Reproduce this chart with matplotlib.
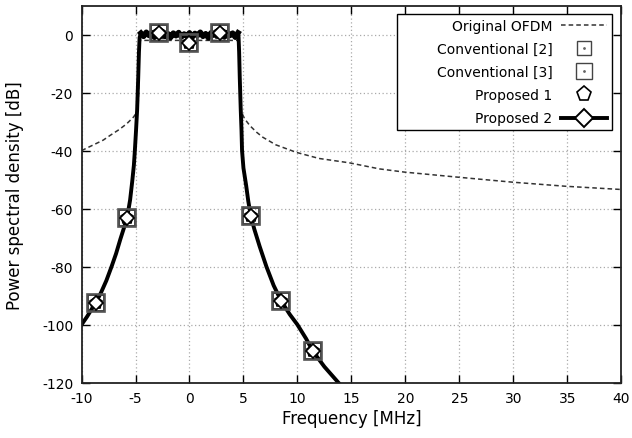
import numpy as np
import matplotlib.pyplot as plt

# Original OFDM
ofdm_f = [-10, -9, -8, -7.37, -6.5, -5.83, -5.2, -4.76, -4.62, 4.52, 4.76, 5.1, 5.6, 6.2, 6.8,
          8, 9.9, 12, 14.8, 17.6, 19.9, 25, 30, 34.9, 40]
ofdm_db = [-40, -38.2, -36.4, -34.8, -32.7, -30.8, -28.5, -26.2, -2, -2, -26.2, -29, -31.4, -33.6, -35.4,
           -38, -40.6, -42.7, -44.2, -46.3, -47.4, -49.2, -50.9, -52.3, -53.4]

# Proposed 2 - zbocza (lewe i prawe)
p2_left_f = [-10, -9.5, -9.0, -8.7, -8.2, -7.7, -7.22, -6.8, -6.4, -6.1, -5.78, -5.5, -5.3, -5.15,
             -5.06, -4.95, -4.85, -4.75, -4.68, -4.62]
p2_left_db = [-100, -97.3, -94.3, -92.5, -89, -84.8, -80, -75.5, -70.5, -67, -63.2, -57, -50.5, -45,
              -40, -33, -26, -15, -6, -1]
# pasmo - szum wokol 0 dB
p2_top_f = [-4.5, -4.25, -4.0, -3.75, -3.5, -3.25, -3.0, -2.75, -2.5, -2.25, -2.0, -1.75, -1.5, -1.25,
            -1.0, -0.75, -0.5, -0.25, 0.0, 0.25, 0.5, 0.75, 1.0, 1.25, 1.5, 1.75, 2.0, 2.25, 2.5, 2.75,
            3.0, 3.25, 3.5, 3.75, 4.0, 4.25, 4.5]
p2_top_db = [0.5, -0.6, 0.8, -0.3, 0.6, -0.9, 0.4, -0.2, 0.9, -0.7, 0.3, -1.0, 0.5, -0.4,
             0.7, -0.8, 0.2, -0.5, 0.6, -0.9, 0.4, -0.3, 0.8, -0.6, 0.3, -1.1, 0.6, -0.2, 0.9, -0.5,
             0.4, -0.8, 0.7, -0.3, 0.5, -0.9, 0.6]
p2_right_f = [4.55, 4.6, 4.66, 4.75, 4.82, 4.87, 5.0, 5.25, 5.45, 5.68, 6.0, 6.5, 7.13, 7.8, 8.52,
              9.3, 10.0, 10.8, 11.44, 12.5, 13.8, 14.3]
p2_right_db = [-1, -6, -15, -26, -33, -40, -46, -52, -57.5, -62.4, -67, -73, -80, -86.5, -92,
               -96.5, -100, -104.8, -109.2, -114.5, -120, -122]

# Punkty znacznikow
mk_f = [-8.7, -5.78, -2.85, 0, 2.85, 5.68, 8.52, 11.44]
mk_db = [-92.5, -63.2, 0.6, -2.8, 0.6, -62.4, -92, -109.2]

plt.rcParams['font.family'] = 'DejaVu Sans'
plt.rcParams['axes.unicode_minus'] = False
fig = plt.figure(figsize=(6.32, 4.39), dpi=100)
ax = fig.add_axes([0.129, 0.126, 0.854, 0.859])

p2_f = p2_left_f + p2_top_f + p2_right_f
p2_db = p2_left_db + p2_top_db + p2_right_db

ln_ofdm, = ax.plot(ofdm_f, ofdm_db, color='#333333', lw=1.1, ls=(0, (3, 2)), label='Original OFDM')
ax.plot(p2_f, p2_db, color='black', lw=2.8, solid_joinstyle='round')
ax.plot(p2_top_f, p2_top_db, color='black', lw=4.0)

sq2, = ax.plot(mk_f, mk_db, ls='none', marker='s', ms=11, mfc='none', mec='#444444', mew=1.4)
sq3, = ax.plot(mk_f, mk_db, ls='none', marker='s', ms=13, mfc='none', mec='#555555', mew=1.2)
dot, = ax.plot(mk_f, mk_db, ls='none', marker='.', ms=2, color='#666666')
pent, = ax.plot(mk_f, mk_db, ls='none', marker='p', ms=9, mfc='white', mec='black', mew=1.2)
dia, = ax.plot(mk_f, mk_db, ls='none', marker='D', ms=7, mfc='white', mec='black', mew=1.2)

# uchwyty legendy
h_sq2, = ax.plot([], [], ls='none', marker='s', ms=10, mfc='white', mec='#444444', mew=1.0)
h_sq3, = ax.plot([], [], ls='none', marker='s', ms=11, mfc='white', mec='#444444', mew=1.0)
h_dot, = ax.plot([], [], ls='none', marker='.', ms=2, color='#666666')
h_pent, = ax.plot([], [], ls='none', marker='p', ms=11, mfc='white', mec='black', mew=1.2)
h_p2, = ax.plot([], [], color='black', lw=2.8, marker='D', ms=9, mfc='white', mec='black', mew=1.4)

pad = '        '
leg = ax.legend([ln_ofdm, (h_sq2, h_dot), (h_sq3, h_dot), h_pent, h_p2],
                [pad + 'Original OFDM', pad + 'Conventional [2]', pad + 'Conventional [3]',
                 pad + 'Proposed 1', pad + 'Proposed 2'],
                loc='upper right', bbox_to_anchor=(0.982, 0.978), markerfirst=False, fancybox=False,
                framealpha=1, edgecolor='black', fontsize=10, handlelength=3.3, labelspacing=0.66,
                borderpad=0.35, handletextpad=0.6, borderaxespad=0.0)
leg.get_frame().set_linewidth(1.0)

ax.set_xlim(-10, 40)
ax.set_ylim(-120, 10)
ax.set_xticks(np.arange(-10, 41, 5))
ax.set_yticks(np.arange(-120, 1, 20))
ax.grid(True, color='#aaaaaa', ls=(0, (1, 2)), lw=0.9)
ax.tick_params(direction='in', length=6, width=1.0, top=True, right=True, labelsize=10, pad=6)
for s in ax.spines.values():
    s.set_linewidth(1.3)
    s.set_color('#222222')

ax.set_xlabel('Frequency [MHz]', fontsize=12, labelpad=3)
ax.set_ylabel('Power spectral density [dB]', fontsize=12, labelpad=13)

plt.savefig('out.png', dpi=100)
